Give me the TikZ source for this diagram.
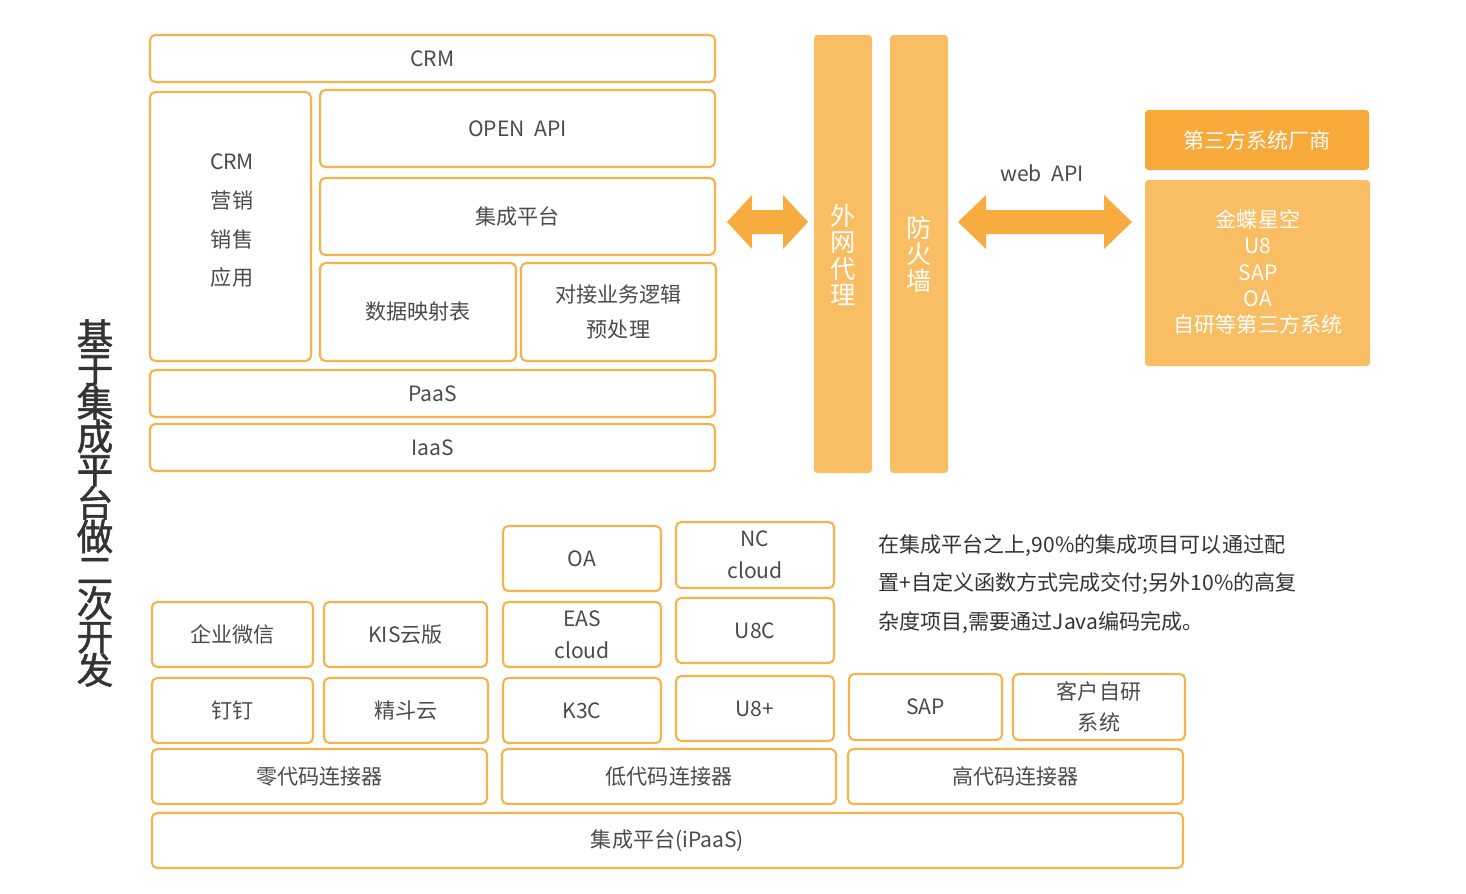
\documentclass[tikz,border=0pt]{standalone}
\usepackage{fontspec}
\setmainfont{Noto Sans CJK SC}
\newfontfamily\titlefont{Noto Sans CJK SC}[FakeBold=1.5]
\usetikzlibrary{fit}
\definecolor{edge}{HTML}{F7B24C}
\definecolor{barfill}{HTML}{F9BE63}
\definecolor{headfill}{HTML}{F7A93A}
\definecolor{txt}{HTML}{4A4A4A}
\begin{document}
\begin{tikzpicture}[x=0.02cm, y=-0.02cm,
    box/.style={draw=edge, line width=1.2pt, rounded corners=3pt, inner sep=0pt,
      label={[font=\large, text=txt, align=center]center:#1}},
    bar/.style={fill=barfill, draw=none, rounded corners=2pt, inner sep=0pt},
    head/.style={fill=headfill, draw=none, rounded corners=2pt, inner sep=0pt,
      label={[font=\large, text=white]center:#1}},
    dblarrow/.style={fill=headfill!85!barfill, draw=none},
    ]
    \useasboundingbox (0,0) rectangle (1466,893);
    %Top stack
    \node[box=CRM, fit={(150,35) (715,82)}]   (crm)    {};
    \node[box={}, fit={(150,92) (311,361)}]  (crmapp) {};
    \node[font=\large, text=txt, align=center] at (232,221) {CRM\\[8pt]营销\\[8pt]销售\\[8pt]应用};
    \node[box={OPEN\ \ API}, fit={(320,90) (715,167)}]  (openapi) {};
    \node[box=集成平台, fit={(320,178) (715,255)}] (ipf)    {};
    \node[box=数据映射表, fit={(320,263) (516,361)}] (map)    {};
    \node[box={对接业务逻辑\\[6pt]预处理}, fit={(521,263) (716,361)}] (logic)  {};
    \node[box=PaaS, fit={(150,370) (715,417)}] (paas)   {};
    \node[box=IaaS, fit={(150,424) (715,471)}] (iaas)   {};
    %Proxy and firewall
    \node[bar, fit={(814,35) (872,473)}]  (proxy)  {};
    \node[font=\Large, text=white, align=center, anchor=north] at (843,198) {外\\[-3pt]网\\[-3pt]代\\[-3pt]理};
    \node[bar, fit={(890,35) (948,473)}]  (fw)     {};
    \node[font=\Large, text=white, align=center, anchor=north] at (919,210) {防\\[-3pt]火\\[-3pt]墙};
    %Vendors
    \node[head=第三方系统厂商, fit={(1145,110) (1369,170)}] (vendor) {};
    \node[bar, fit={(1145,180) (1370,366)}]  (vlist)  {};
    \node[font=\large, text=white, align=center] at (1258,272) {金蝶星空\\[1pt]U8\\[1pt]SAP\\[1pt]OA\\[1pt]自研等第三方系统};
    %Arrows
    \fill[dblarrow] (727,222) -- (752,195) -- (752,210) -- (783,210) -- (783,195) -- (808,222)
      -- (783,249) -- (783,234) -- (752,234) -- (752,249) -- cycle;
    \fill[dblarrow] (958,222) -- (986,195) -- (986,210) -- (1104,210) -- (1104,195) -- (1132,222)
      -- (1104,249) -- (1104,234) -- (986,234) -- (986,249) -- cycle;
    \node[font=\large, text=txt] (webapi) at (1042,173) {web\ \ API};
    %Title
    \node[font=\huge\titlefont, text=black!80, align=center] (title) at (95,503) {基\\[-6pt]于\\[-6pt]集\\[-6pt]成\\[-6pt]平\\[-6pt]台\\[-6pt]做\\[-6pt]二\\[-6pt]次\\[-6pt]开\\[-6pt]发};
    %Bottom stack
    \node[box=OA, fit={(503,526) (661,591)}]   (oa)   {};
    \node[box={NC\\[4pt]cloud}, fit={(676,522) (834,588)}]   (nc)   {};
    \node[box={EAS\\[4pt]cloud}, fit={(503,602) (661,667)}]   (eas)  {};
    \node[box=U8C, fit={(676,598) (834,663)}]   (u8c)  {};
    \node[box=企业微信, fit={(152,602) (313,667)}]   (wx)   {};
    \node[box=KIS云版, fit={(324,602) (487,667)}]   (kis)  {};
    \node[box=钉钉, fit={(152,678) (313,743)}]   (dd)   {};
    \node[box=精斗云, fit={(324,678) (488,743)}]   (jdy)  {};
    \node[box=K3C, fit={(503,678) (661,743)}]   (k3c)  {};
    \node[box=U8+, fit={(676,676) (834,741)}]   (u8p)  {};
    \node[box=SAP, fit={(849,674) (1002,740)}]  (sap)  {};
    \node[box={客户自研\\[4pt]系统}, fit={(1013,674) (1185,740)}] (own)  {};
    \node[box=零代码连接器, fit={(152,749) (487,804)}]   (zero) {};
    \node[box=低代码连接器, fit={(502,749) (836,804)}]   (low)  {};
    \node[box=高代码连接器, fit={(848,749) (1183,804)}]  (high) {};
    \node[box={集成平台(iPaaS)}, fit={(152,813) (1183,868)}]  (ipaas) {};
    %Note
    \node[font=\large, text=black!80, align=left, anchor=north west] (note) at (872,528)
      {在集成平台之上,90\%的集成项目可以通过配\\[8pt]置+自定义函数方式完成交付;另外10\%的高复\\[8pt]杂度项目,需要通过Java编码完成。};
\end{tikzpicture}
\end{document}
